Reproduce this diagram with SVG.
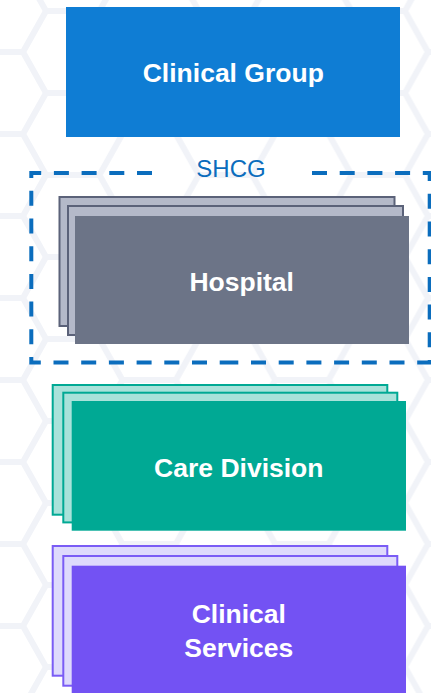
<svg xmlns="http://www.w3.org/2000/svg" xmlns:xlink="http://www.w3.org/1999/xlink" width="431" height="693" viewBox="0 0 431 693">
  <defs>
    <style>
      .lbl { font-family: "Liberation Sans", Arial, sans-serif; font-weight: bold; font-size: 26.5px; fill: #ffffff; text-anchor: middle; }
      .grp { font-family: "Liberation Sans", Arial, sans-serif; font-size: 24px; fill: #0b6dbd; text-anchor: middle; }
      .hex { fill: none; stroke: #f1f3f8; stroke-width: 6; }
      .hosp-back { fill: #b4b9c9; stroke: #5b6279; stroke-width: 2; }
      .hosp-front { fill: #6c7487; }
      .care-back { fill: #a9e2da; stroke: #00a994; stroke-width: 2; }
      .care-front { fill: #00a994; }
      .svc-back { fill: #dedafc; stroke: #7a5cf5; stroke-width: 2; }
      .svc-front { fill: #7352f3; }
      .boundary { fill: none; stroke: #0b6dbd; stroke-width: 4; stroke-dasharray: 15 12.7; }
    </style>
    <!-- one tile of the honeycomb backdrop -->
    <path id="hx" d="M23,0 L0,41 L23,82 M23,0 H76.4 L99.4,41 L76.4,82 H23 M99.4,41 H152.8"/>
    <pattern id="honeycomb" patternUnits="userSpaceOnUse" x="23" y="11" width="152.8" height="82">
      <g class="hex">
        <use xlink:href="#hx"/>
        <use xlink:href="#hx" transform="translate(-152.8,0)"/>
        <use xlink:href="#hx" transform="translate(152.8,0)"/>
        <use xlink:href="#hx" transform="translate(0,-82)"/>
        <use xlink:href="#hx" transform="translate(0,82)"/>
      </g>
    </pattern>
  </defs>

  <rect x="0" y="0" width="431" height="693" fill="#ffffff"/>
  <rect x="0" y="0" width="431" height="693" fill="url(#honeycomb)"/>

  <g id="clinical-group">
    <rect x="66" y="7" width="334" height="130" fill="#0f7dd4"/>
    <text class="lbl" x="233.3" y="82">Clinical Group</text>
  </g>

  <g id="shcg">
    <path class="boundary" d="M152,173 H31.3 V362.5 H230"/>
    <path class="boundary" d="M312,173 H429.7 V362.5 H230"/>
    <text class="grp" x="231" y="177">SHCG</text>
  </g>

  <g id="hospital">
    <rect class="hosp-back" x="59.5" y="197" width="335" height="129"/>
    <rect class="hosp-back" x="68" y="206" width="335" height="129"/>
    <rect class="hosp-front" x="75" y="216" width="334" height="128"/>
    <text class="lbl" x="241.7" y="291">Hospital</text>
  </g>

  <g id="care-division">
    <rect class="care-back" x="52.7" y="385" width="334.6" height="129.7"/>
    <rect class="care-back" x="63.3" y="392.7" width="334" height="129.7"/>
    <rect class="care-front" x="71.7" y="401" width="334.3" height="129.7"/>
    <text class="lbl" x="238.8" y="476.7">Care Division</text>
  </g>

  <g id="clinical-services">
    <rect class="svc-back" x="52.7" y="546" width="334.6" height="129.7"/>
    <rect class="svc-back" x="63.3" y="556" width="334" height="129.7"/>
    <rect class="svc-front" x="71.7" y="565.7" width="334.3" height="130"/>
    <text class="lbl" x="238.8" y="623.3">Clinical</text>
    <text class="lbl" x="238.8" y="656.7">Services</text>
  </g>

  <g id="connectors"/>
</svg>
